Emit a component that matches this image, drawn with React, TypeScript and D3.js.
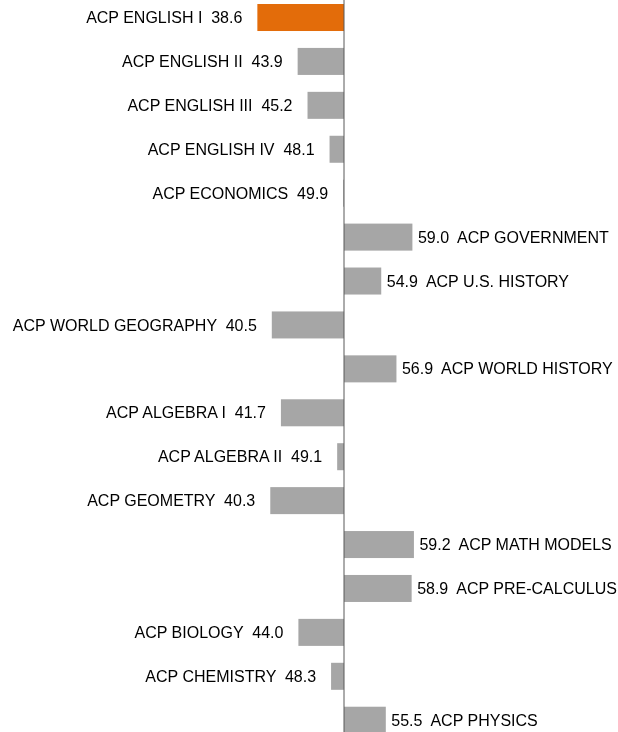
import React from "react";
import * as d3 from "d3";

const categories = [
  "ACP ENGLISH I",
  "ACP ENGLISH II",
  "ACP ENGLISH III",
  "ACP ENGLISH IV",
  "ACP ECONOMICS",
  "ACP GOVERNMENT",
  "ACP U.S. HISTORY",
  "ACP WORLD GEOGRAPHY",
  "ACP WORLD HISTORY",
  "ACP ALGEBRA I",
  "ACP ALGEBRA II",
  "ACP GEOMETRY",
  "ACP MATH MODELS",
  "ACP PRE-CALCULUS",
  "ACP BIOLOGY",
  "ACP CHEMISTRY",
  "ACP PHYSICS",
];
const values = [38.6, 43.9, 45.2, 48.1, 49.9, 59.0, 54.9, 40.5, 56.9, 41.7, 49.1, 40.3, 59.2, 58.9, 44.0, 48.3, 55.5];
const highlighted = ["ACP ENGLISH I"];
const baseline = 50;

const W = 618;
const H = 732;

export default function App() {
  const x = d3.scaleLinear().domain([40, 60]).range([268, 420]);
  const step = 43.92;
  const y = d3
    .scaleBand<string>()
    .domain(categories)
    .range([4, 4 + step * (categories.length - 0.385)])
    .paddingInner(0.385)
    .paddingOuter(0);
  const bw = y.bandwidth();
  const x0 = x(baseline);

  return (
    <div style={{ position: "fixed", left: 0, top: 0 }}>
      <svg width={W} height={H} style={{ display: "block" }}>
        {categories.map((c, i) => {
          const v = values[i];
          const xv = x(v);
          const y0 = y(c)!;
          const left = Math.min(xv, x0);
          const w = Math.abs(xv - x0);
          const pos = v >= baseline;
          const label = pos ? `${v.toFixed(1)}  ${c}` : `${c}  ${v.toFixed(1)}`;
          return (
            <g key={c}>
              <rect
                x={left}
                y={y0}
                width={w}
                height={bw}
                fill={highlighted.includes(c) ? "#e36c0a" : "#a6a6a6"}
              />
              <text
                x={pos ? xv + 5.5 : xv - 15}
                y={y0 + bw / 2}
                dy="0.35em"
                textAnchor={pos ? "start" : "end"}
                fontFamily="Liberation Sans, Arial, sans-serif"
                fontSize={16}
                fill="#000"
                style={{ whiteSpace: "pre" }}
              >
                {label}
              </text>
            </g>
          );
        })}
        <line x1={x0} x2={x0} y1={0} y2={H} stroke="#595959" strokeWidth={1} />
      </svg>
    </div>
  );
}
